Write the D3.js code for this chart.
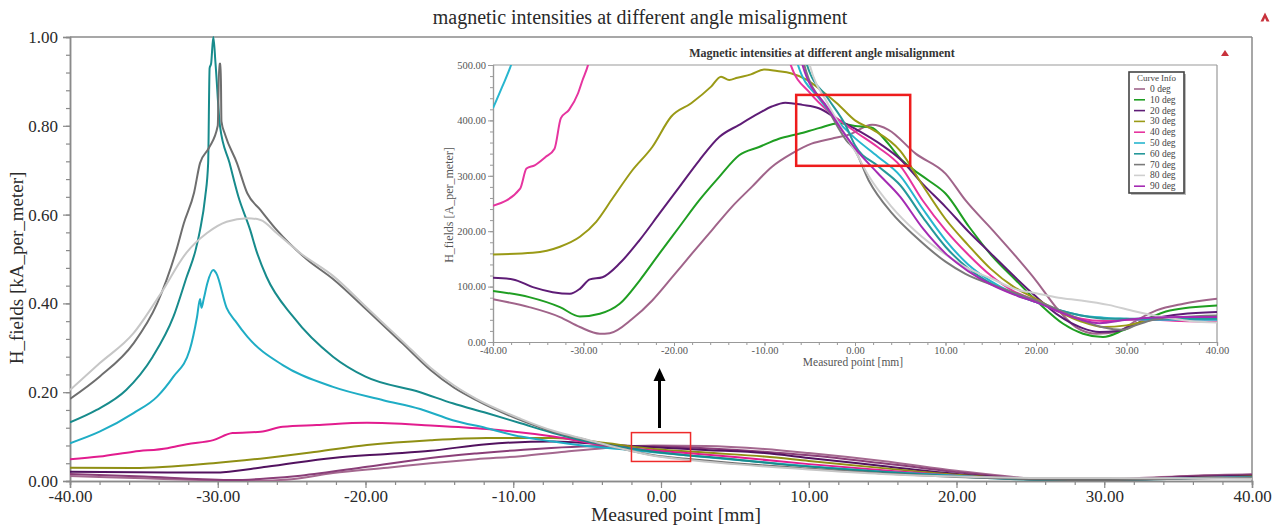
<!DOCTYPE html>
<html><head><meta charset="utf-8">
<script src="https://cdn.jsdelivr.net/npm/d3@7"></script>
<style>
body{margin:0;background:#fff;}
svg{display:block;font-family:"Liberation Serif","Times New Roman",serif;}
</style>
</head><body>
<svg id="c" width="1288" height="526"></svg>
<script>
// ---------------- DATA ----------------
const mainTitle = "magnetic intensities at different angle misalignment";
const mainXLabel = "Measured point [mm]";
const mainYLabel = "H_fields [kA_per_meter]";
const mainXTicks = [-40, -30, -20, -10, 0, 10, 20, 30, 40];
const mainYTicks = [0, 0.2, 0.4, 0.6, 0.8, 1.0];

// main chart series, [mm, kA/m]
const main0deg = [[-40,0.011],[-35,0.006],[-31,0.002],[-28,0.0],[-25,0.004],[-22.2,0.018],[-18.5,0.03],[-15.6,0.04],[-12.5,0.049],[-9.5,0.056],[-6.5,0.066],[-3.9,0.074],[-0.5,0.080],[3,0.079],[7,0.072],[10,0.063],[15,0.045],[20,0.023],[25,0.006],[28,0.002],[32,0.006],[36,0.012],[40,0.015]];
const main10deg = [[-40,0.016],[-35,0.010],[-31,0.004],[-29,0.002],[-26.5,0.006],[-24.4,0.012],[-19.9,0.032],[-15.6,0.052],[-12.5,0.062],[-9.5,0.070],[-3.9,0.079],[-0.5,0.078],[3,0.074],[7,0.066],[10,0.058],[15,0.040],[20,0.020],[25,0.005],[28,0.002],[32,0.005],[36,0.011],[40,0.014]];
const main20deg = [[-40,0.021],[-33.4,0.019],[-30.3,0.019],[-26.7,0.032],[-22.2,0.052],[-18.5,0.061],[-15.6,0.068],[-11.8,0.083],[-7.3,0.089],[-3.9,0.083],[-0.5,0.076],[3,0.070],[7,0.063],[10,0.052],[15,0.034],[20,0.016],[25,0.004],[28,0.002],[32,0.004],[36,0.009],[40,0.012]];
const main30deg = [[-40,0.030],[-35.7,0.029],[-30.3,0.040],[-26.7,0.052],[-23.3,0.066],[-19.9,0.081],[-15.6,0.092],[-11.8,0.097],[-7.3,0.097],[-3.9,0.086],[-0.5,0.072],[3,0.064],[7,0.055],[10,0.045],[15,0.029],[20,0.014],[25,0.004],[30,0.003],[35,0.006],[40,0.010]];
const main40deg = [[-40,0.049],[-38,0.055],[-35.7,0.066],[-33.4,0.074],[-32.1,0.083],[-30.3,0.092],[-29,0.108],[-27.1,0.111],[-25.6,0.122],[-23.3,0.126],[-19.9,0.131],[-15.6,0.125],[-11.8,0.117],[-7.3,0.100],[-3.9,0.081],[-1.6,0.072],[1.7,0.063],[5,0.054],[10,0.038],[15,0.024],[20,0.012],[25,0.004],[30,0.003],[35,0.006],[40,0.009]];
const main50deg = [[-40,0.085],[-38,0.111],[-35.7,0.153],[-34.1,0.19],[-33,0.235],[-31.9,0.295],[-31.4,0.37],[-31.2,0.41],[-31.1,0.39],[-30.95,0.41],[-30.7,0.446],[-30.3,0.475],[-30.1,0.468],[-29.4,0.39],[-28.8,0.36],[-28,0.325],[-25.6,0.261],[-22.2,0.212],[-18.8,0.182],[-16.3,0.162],[-14.1,0.137],[-11.8,0.119],[-9.5,0.100],[-7.3,0.089],[-5,0.079],[-2.8,0.072],[-0.5,0.065],[1.7,0.058],[5,0.048],[10,0.033],[15,0.021],[20,0.012],[25,0.004],[30,0.003],[35,0.006],[40,0.009]];
const main60deg = [[-40,0.132],[-38.2,0.160],[-36.2,0.205],[-34.4,0.28],[-33,0.37],[-32.1,0.46],[-31.5,0.52],[-31.2,0.565],[-30.85,0.64],[-30.65,0.716],[-30.55,0.93],[-30.45,0.94],[-30.3,1.0],[-30.15,0.94],[-29.85,0.80],[-29.2,0.716],[-28.6,0.64],[-27.8,0.565],[-27.4,0.52],[-26.7,0.46],[-24.9,0.37],[-22.2,0.28],[-20,0.235],[-16.3,0.20],[-14.1,0.175],[-11.8,0.153],[-9.5,0.13],[-7.3,0.108],[-5,0.089],[-2.8,0.077],[-0.5,0.066],[1.7,0.058],[4,0.052],[8,0.038],[12,0.027],[16,0.018],[20,0.010],[24,0.004],[28,0.002],[32,0.003],[36,0.006],[40,0.008]];
const main70deg = [[-40,0.185],[-38,0.235],[-35.7,0.31],[-34.1,0.40],[-32.8,0.52],[-32.3,0.58],[-31.6,0.65],[-31.2,0.716],[-30.6,0.75],[-30.0,0.80],[-29.9,0.94],[-29.8,0.94],[-29.75,0.81],[-29.5,0.78],[-28.7,0.716],[-28.0,0.648],[-27.1,0.61],[-26.0,0.565],[-24.0,0.50],[-22.2,0.455],[-19.9,0.385],[-17.5,0.31],[-15.6,0.25],[-14,0.21],[-12.5,0.182],[-9.5,0.137],[-7.3,0.111],[-5,0.092],[-2.8,0.074],[-0.5,0.058],[1.7,0.050],[5,0.040],[10,0.028],[15,0.017],[20,0.009],[25,0.004],[30,0.002],[35,0.005],[40,0.008]];
const main80deg = [[-40,0.205],[-38,0.265],[-35.7,0.333],[-33.9,0.42],[-32.1,0.515],[-30.75,0.558],[-29.4,0.584],[-28.0,0.592],[-27.1,0.588],[-26,0.558],[-24.4,0.513],[-22.2,0.462],[-19.9,0.39],[-17.5,0.315],[-15.6,0.255],[-14,0.215],[-12.5,0.185],[-9.5,0.14],[-7.3,0.113],[-5,0.093],[-2.8,0.074],[-0.5,0.057],[1.7,0.048],[5,0.038],[10,0.026],[15,0.016],[20,0.010],[25,0.007],[30,0.007],[35,0.006],[40,0.005]];

const mainSeries = [main0deg, main10deg, main20deg, main30deg, main40deg, main50deg, main60deg, main70deg, main80deg];
const mainColors = ["#a4688f","#8a3e78","#52125f","#8f8f14","#e21c8e","#1fadc5","#178b8c","#6e6e6e","#c6c6c6"];
const mainBox = {x:[-2,2], y:[0.044,0.109]};

// inset chart, [mm, A/m]; null breaks the line where it leaves the top
const insetTitle = "Magnetic intensities at different angle misalignment";
const insetXLabel = "Measured point [mm]";
const insetYLabel = "H_fields [A_per_meter]";
const insetXTicks = [-40, -30, -20, -10, 0, 10, 20, 30, 40];
const insetYTicks = [0, 100, 200, 300, 400, 500];
const legendTitle = "Curve Info";
const legendLabels = ["0 deg","10 deg","20 deg","30 deg","40 deg","50 deg","60 deg","70 deg","80 deg","90 deg"];

const in0deg = [[-40,77],[-36,63],[-32.6,45],[-30.4,27],[-28.2,15],[-27.1,16],[-24.6,42],[-22.4,75],[-20.2,117],[-18,160],[-15.8,202],[-13.6,244],[-11.4,280],[-9.2,316],[-7,340],[-4.8,358],[-2.6,367],[-0.7,374],[1.9,392],[3.7,383],[6.7,340],[10,304],[12.2,256],[15.2,202],[17.8,154],[20,111],[22.2,63],[24.4,27],[26.7,15],[28.9,18],[31.1,39],[33.3,57],[36.3,69],[40,78]];
const in10deg = [[-40,92],[-36,81],[-32.6,63],[-30.4,46],[-28.2,51],[-26,69],[-23.8,111],[-21.6,160],[-19.4,208],[-17.2,256],[-15,298],[-12.8,337],[-10.6,352],[-8.4,367],[-6.2,376],[-4,386],[-1.8,395],[0,390],[1.8,387],[3.3,365],[5.2,328],[6.3,313],[8.1,292],[10,268],[12.6,208],[15.2,154],[17.8,111],[20.4,69],[23,33],[25.2,15],[27.4,9],[29.6,21],[31.9,39],[34.8,57],[40,66]];
const in20deg = [[-40,116],[-37.8,113],[-35.6,99],[-33.4,90],[-31.5,87],[-30.4,96],[-29.3,113],[-27.9,117],[-26,142],[-23.8,184],[-21.6,232],[-19.4,280],[-17.2,328],[-15,370],[-12.8,392],[-10.6,413],[-9.2,425],[-7.7,432],[-5.8,428],[-4,422],[-1.8,401],[0,385],[3,355],[5,330],[7.5,285],[10,244],[12.5,200],[15,160],[17.5,120],[20,82],[22.5,48],[25,26],[27,18],[29,20],[31,33],[33.5,44],[36,50],[40,54]];
const in30deg = [[-40,158],[-35.6,161],[-32.6,172],[-30.4,190],[-28.6,217],[-26.8,259],[-24.6,310],[-22.4,352],[-20.3,407],[-18.1,431],[-15.9,461],[-14.8,479],[-13.9,473],[-13,477],[-11.5,483],[-10,492],[-8.6,489],[-7.1,485],[-5.3,473],[-3.8,455],[-2,431],[0,400],[2,383],[5,345],[7.5,282],[10,222],[12.5,175],[15,132],[17.5,100],[20,78],[22.5,55],[25,37],[27.5,27],[30,30],[33,40],[36,42],[40,45]];
const in40deg = [[-40,246],[-37,277],[-36.3,313],[-35.4,319],[-34.2,334],[-33.2,349],[-32.5,404],[-31.6,419],[-30.6,449],[-30.1,473],[-29.5,500],[-29.2,520],null,[-7.4,520],[-7.1,500],[-5,450],[-2.5,410],[0,380],[2.5,352],[5,318],[7.5,255],[10,202],[12.5,158],[15,120],[17.5,92],[20,75],[22.5,55],[25,42],[27.5,38],[30,40],[33,40],[36,38],[40,37]];
const in50deg = [[-40,422],[-39,460],[-38,500],[-37.6,520],null,[-6.6,520],[-6.3,500],[-4,440],[-2,400],[0,368],[2.5,335],[5,300],[7.5,240],[10,184],[12.5,140],[15,110],[17.5,88],[20,72],[22.5,58],[25,48],[27.5,44],[30,42],[33,40],[36,40],[40,40]];
const in60deg = [[-5.6,520],[-5.3,500],[-3,440],[-1,390],[0,355],[2.5,318],[5,283],[7.5,225],[10,172],[12.5,133],[15,106],[17.5,87],[20,72],[22.5,58],[25,48],[28,42],[31,42],[35,42],[40,42]];
const in70deg = [[-5.9,520],[-5.6,500],[-3,420],[-1,365],[0,346],[1.5,292],[4.1,232],[6.7,190],[10,145],[12.2,123],[15.9,99],[20,75],[22.5,58],[25,40],[27.5,26],[29.5,22],[31,30],[33,40],[36,45],[40,48]];
const in80deg = [[-5.3,520],[-5,500],[-3,430],[-1,372],[0,345],[1.5,300],[4,245],[6.7,200],[10,158],[12.2,135],[15,115],[17.8,95],[20,88],[22.5,80],[25,75],[28,67],[31,55],[34,45],[37,38],[40,35]];
const in90deg = [[-6.1,520],[-5.8,500],[-3,422],[-1,372],[0,350],[2.5,305],[5,262],[7.5,205],[10,160],[12.5,128],[15,104],[17.5,86],[20,72],[22.5,55],[25,40],[27,34],[30,40],[33,44],[36,45],[40,45]];

const insetSeries = [in0deg, in10deg, in20deg, in30deg, in40deg, in50deg, in60deg, in70deg, in80deg, in90deg];
const insetColors = ["#a0648a","#1f9e22","#5e1c76","#9a9a16","#e6349f","#27b6cf","#25989a","#7a7a7a","#cfcfcf","#a52bb3"];
const insetBox = {x:[-6.5,6.1], y:[318,446]};

// ---------------- DRAW ----------------
const svg = d3.select("#c");
const fmt = d => d.toFixed(2);
const axisGray = "#8a8a8a";
const textCol = "#2a2a2a";

// main scales
const xM = d3.scaleLinear().domain([-40,40]).range([70,1252]);
const yM = d3.scaleLinear().domain([0,1]).range([481,37]);

// title
svg.append("text").attr("x",640).attr("y",24).attr("text-anchor","middle")
  .attr("font-size",20).attr("fill",textCol).text(mainTitle);

function logo(x,y,s){
  svg.append("path").attr("d",`M${x-s},${y+s} L${x},${y-s} L${x+s},${y+s} L${x+s*0.35},${y+s} L${x},${y+s*0.2} L${x-s*0.35},${y+s} Z`)
    .attr("fill","#c8323c");
}
logo(1265,17,4.5);

// main frame lines
const gM = svg.append("g");
gM.append("line").attr("x1",xM(-40)).attr("x2",xM(40)).attr("y1",yM(1)).attr("y2",yM(1)).attr("stroke",axisGray).attr("stroke-width",1.5);
gM.append("line").attr("x1",xM(40)).attr("x2",xM(40)).attr("y1",yM(1)).attr("y2",yM(0)).attr("stroke",axisGray).attr("stroke-width",1.5);

// main axes
const yMinor = d3.range(0,1.0001,0.04);
const xMinor = d3.range(-40,40.001,2);
const ayMin = gM.append("g").attr("transform",`translate(${xM(-40)},0)`)
  .call(d3.axisLeft(yM).tickValues(yMinor).tickSize(4).tickFormat(""));
const ay = gM.append("g").attr("transform",`translate(${xM(-40)},0)`)
  .call(d3.axisLeft(yM).tickValues(mainYTicks).tickSize(7).tickPadding(5).tickFormat(fmt));
const axMin = gM.append("g").attr("transform",`translate(0,${yM(0)})`)
  .call(d3.axisBottom(xM).tickValues(xMinor).tickSize(4).tickFormat(""));
const ax = gM.append("g").attr("transform",`translate(0,${yM(0)})`)
  .call(d3.axisBottom(xM).tickValues(mainXTicks).tickSize(7).tickPadding(2).tickFormat(fmt));
[ayMin,ay,axMin,ax].forEach(g=>{
  g.selectAll("path.domain").attr("stroke",axisGray).attr("stroke-width",1.5);
  g.selectAll(".tick line").attr("stroke",axisGray).attr("stroke-width",1.2);
  g.selectAll("text").attr("font-family","Liberation Serif, serif").attr("font-size",17).attr("fill",textCol);
});

// main axis labels
svg.append("text").attr("x",676).attr("y",521).attr("text-anchor","middle")
  .attr("font-size",19.5).attr("fill",textCol).text(mainXLabel);
svg.append("text").attr("transform","translate(23,268) rotate(-90)").attr("text-anchor","middle")
  .attr("font-size",19).attr("fill",textCol).text(mainYLabel);

// main lines
svg.append("clipPath").attr("id","clipM").append("rect")
  .attr("x",xM(-40)).attr("y",yM(1)-3).attr("width",xM(40)-xM(-40)).attr("height",yM(0)-yM(1)+3);
const lineM = d3.line().x(d=>xM(d[0])).y(d=>yM(d[1])).curve(d3.curveMonotoneX);
const gLM = svg.append("g").attr("clip-path","url(#clipM)");
mainSeries.forEach((s,i)=>{
  gLM.append("path").attr("d",lineM(s)).attr("fill","none")
    .attr("stroke",mainColors[i]).attr("stroke-width",2).attr("stroke-linejoin","round");
});

// main red box + arrow
svg.append("rect").attr("x",xM(mainBox.x[0])).attr("y",yM(mainBox.y[1]))
  .attr("width",xM(mainBox.x[1])-xM(mainBox.x[0])).attr("height",yM(mainBox.y[0])-yM(mainBox.y[1]))
  .attr("fill","none").attr("stroke","#ee2a2a").attr("stroke-width",1.5);
const ax0 = xM(-0.1);
svg.append("line").attr("x1",ax0).attr("x2",ax0).attr("y1",428).attr("y2",378).attr("stroke","#000").attr("stroke-width",3);
svg.append("path").attr("d",`M${ax0-6},381 L${ax0},368 L${ax0+6},381 Z`).attr("fill","#000");

// ---------------- INSET ----------------
const xI = d3.scaleLinear().domain([-40,40]).range([493,1217]);
const yI = d3.scaleLinear().domain([0,500]).range([342,65]);
const gI = svg.append("g");
gI.append("rect").attr("x",436).attr("y",40).attr("width",806).attr("height",326).attr("fill","#fff");

gI.append("text").attr("x",822).attr("y",57).attr("text-anchor","middle").attr("font-weight","bold")
  .attr("font-size",12).attr("fill","#333").text(insetTitle);
svg.append("path").attr("d",`M1221,56 L1225,50 L1229,56 Z`).attr("fill","#c8323c");

gI.append("line").attr("x1",xI(-40)).attr("x2",xI(40)).attr("y1",yI(500)).attr("y2",yI(500)).attr("stroke","#999").attr("stroke-width",1.2);
gI.append("line").attr("x1",xI(40)).attr("x2",xI(40)).attr("y1",yI(500)).attr("y2",yI(0)).attr("stroke","#999").attr("stroke-width",1.2);

const iyMin = gI.append("g").attr("transform",`translate(${xI(-40)},0)`)
  .call(d3.axisLeft(yI).tickValues(d3.range(0,500.01,20)).tickSize(3).tickFormat(""));
const iy = gI.append("g").attr("transform",`translate(${xI(-40)},0)`)
  .call(d3.axisLeft(yI).tickValues(insetYTicks).tickSize(5).tickPadding(2).tickFormat(fmt));
const ixMin = gI.append("g").attr("transform",`translate(0,${yI(0)})`)
  .call(d3.axisBottom(xI).tickValues(xMinor).tickSize(3).tickFormat(""));
const ix = gI.append("g").attr("transform",`translate(0,${yI(0)})`)
  .call(d3.axisBottom(xI).tickValues(insetXTicks).tickSize(4).tickPadding(1).tickFormat(fmt));
[iyMin,iy,ixMin,ix].forEach(g=>{
  g.selectAll("path.domain").attr("stroke","#999").attr("stroke-width",1.2);
  g.selectAll(".tick line").attr("stroke","#999");
  g.selectAll("text").attr("font-family","Liberation Serif, serif").attr("font-size",10.5).attr("fill","#555");
});
gI.append("text").attr("x",853).attr("y",366).attr("text-anchor","middle")
  .attr("font-size",11.5).attr("fill","#555").text(insetXLabel);
gI.append("text").attr("transform","translate(453,205) rotate(-90)").attr("text-anchor","middle")
  .attr("font-size",12).attr("fill","#555").text(insetYLabel);

svg.append("clipPath").attr("id","clipI").append("rect")
  .attr("x",xI(-40)).attr("y",yI(500)).attr("width",xI(40)-xI(-40)).attr("height",yI(0)-yI(500));
const lineI = d3.line().defined(d=>d!==null).x(d=>xI(d[0])).y(d=>yI(d[1])).curve(d3.curveMonotoneX);
const gLI = gI.append("g").attr("clip-path","url(#clipI)");
insetSeries.forEach((s,i)=>{
  gLI.append("path").attr("d",lineI(s)).attr("fill","none")
    .attr("stroke",insetColors[i]).attr("stroke-width",2);
});

// inset red box
gI.append("rect").attr("x",xI(insetBox.x[0])).attr("y",yI(insetBox.y[1]))
  .attr("width",xI(insetBox.x[1])-xI(insetBox.x[0])).attr("height",yI(insetBox.y[0])-yI(insetBox.y[1]))
  .attr("fill","none").attr("stroke","#ee1c1c").attr("stroke-width",2.5);

// legend
const lg = gI.append("g").attr("transform","translate(1129,72)");
lg.append("rect").attr("x",2).attr("y",2).attr("width",55).attr("height",121).attr("fill","#bbb");
lg.append("rect").attr("x",0).attr("y",0).attr("width",55).attr("height",121).attr("fill","#fff")
  .attr("stroke","#444").attr("stroke-width",1.6);
lg.append("text").attr("x",27.5).attr("y",9).attr("text-anchor","middle").attr("font-size",9).attr("fill","#444").text(legendTitle);
legendLabels.forEach((l,i)=>{
  const y = 17 + i*10.8;
  lg.append("line").attr("x1",5).attr("x2",16).attr("y1",y).attr("y2",y).attr("stroke",insetColors[i]).attr("stroke-width",1.6);
  lg.append("text").attr("x",21).attr("y",y+3).attr("font-size",9.5).attr("fill","#444").text(l);
});
</script>
</body></html>
